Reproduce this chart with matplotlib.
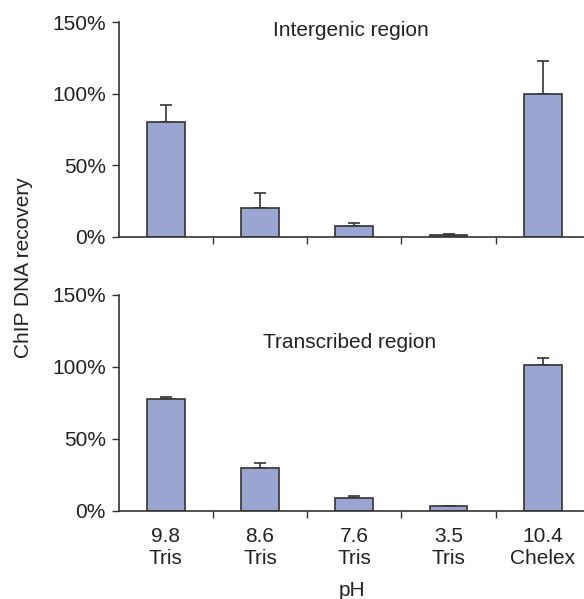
import numpy as np
import matplotlib.pyplot as plt
from matplotlib.ticker import FuncFormatter

plt.rcParams['font.family'] = ['Liberation Sans', 'DejaVu Sans']

# data
cats = ['9.8\nTris', '8.6\nTris', '7.6\nTris', '3.5\nTris', '10.4\nChelex']
intergenic = [80, 20, 8, 1.5, 100]
intergenic_err = [12, 11, 2, 0.8, 23]
transcribed = [78, 30, 9, 3, 101]
transcribed_err = [1, 3, 1, 0.3, 5]

barcol = '#9ba5d1'
edgecol = '#333333'
txtcol = '#222222'
fs = 15

fig = plt.figure(figsize=(5.84, 5.99), dpi=100)
left = 118.5/584
ax1 = fig.add_axes([left, 1-237/599, 1-left, 215/599])
ax2 = fig.add_axes([left, 1-510.7/599, 1-left, 215.7/599])

x = np.arange(len(cats))
for ax, vals, errs in [(ax1, intergenic, intergenic_err), (ax2, transcribed, transcribed_err)]:
    ax.bar(x, vals, width=0.4, color=barcol, edgecolor=edgecol, linewidth=1.2, zorder=2)
    ax.errorbar(x, vals, yerr=[np.zeros(len(vals)), errs], fmt='none', ecolor=edgecol,
                elinewidth=1.2, capsize=4, capthick=1.2, zorder=1)
    ax.set_ylim(0, 150)
    ax.set_xlim(-0.5, (584-118.5)/94.3 - 0.5)
    ax.set_yticks([0, 50, 100, 150])
    ax.yaxis.set_major_formatter(FuncFormatter(lambda v, p: '%d%%' % v))
    ax.set_xticks(x)
    ax.set_xticks(np.arange(0.5, 4, 1), minor=True)
    ax.tick_params(axis='x', which='major', length=0)
    ax.tick_params(axis='x', which='minor', length=5, width=1, color=edgecol)
    ax.tick_params(axis='y', length=5, width=1, color=edgecol, labelsize=fs, pad=4,
                   labelcolor=txtcol)
    for s in ['top', 'right']:
        ax.spines[s].set_visible(False)
    for s in ['left', 'bottom']:
        ax.spines[s].set_color(edgecol)
        ax.spines[s].set_linewidth(1.2)

ax1.set_xticklabels([])
ax2.set_xticklabels(cats, fontsize=fs, linespacing=1.2, color=txtcol)
ax2.tick_params(axis='x', which='major', pad=12)

fig.text(351/584, 1-30/599, 'Intergenic region', ha='center', va='center', fontsize=fs, color=txtcol)
fig.text(350/584, 1-342/599, 'Transcribed region', ha='center', va='center', fontsize=fs, color=txtcol)
fig.text(24/584, 1-268/599, 'ChIP DNA recovery', rotation=90, ha='center', va='center', fontsize=fs, color=txtcol)
fig.text(352/584, 1-590/599, 'pH', ha='center', va='center', fontsize=fs, color=txtcol)

fig.savefig('out.png', dpi=100)
